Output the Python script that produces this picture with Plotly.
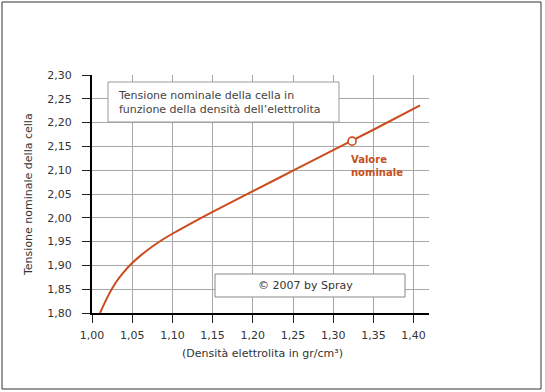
import plotly.graph_objects as go

# Data
density = [1.010, 1.020, 1.030, 1.040, 1.050, 1.060, 1.070, 1.080, 1.090,
           1.100, 1.125, 1.150, 1.200, 1.250, 1.300, 1.350, 1.408]
voltage = [1.800, 1.836, 1.865, 1.887, 1.905, 1.920, 1.9335, 1.9455, 1.9565,
           1.9665, 1.990, 2.0125, 2.056, 2.099, 2.142, 2.185, 2.236]
nominal_x = [1.3235]
nominal_y = [2.161]
x_ticks = [1.00, 1.05, 1.10, 1.15, 1.20, 1.25, 1.30, 1.35, 1.40]
y_ticks = [1.80, 1.85, 1.90, 1.95, 2.00, 2.05, 2.10, 2.15, 2.20, 2.25, 2.30]

W, H = 545, 392
L, R, T, B = 92, 429, 75, 313  # plot area pixel box
FONT = "DejaVu Sans"
LINE_COL = "#cc4b1c"

def px(xp):
    return (xp - L) / (R - L)

def py(yp):
    return (B - yp) / (B - T)

fig = go.Figure()
fig.add_trace(go.Scatter(x=density, y=voltage, mode="lines",
                         line=dict(color=LINE_COL, width=2, shape="spline",
                                   smoothing=1.0),
                         hoverinfo="skip", showlegend=False))
fig.add_trace(go.Scatter(x=nominal_x, y=nominal_y, mode="markers",
                         marker=dict(size=8, color="white",
                                     line=dict(color=LINE_COL, width=1.6)),
                         showlegend=False))

axis_common = dict(showline=True, linecolor="black", linewidth=2,
                   ticks="outside", ticklen=8, tickcolor="#222", tickwidth=1,
                   showgrid=True, gridcolor="#a8a8a8", gridwidth=1,
                   zeroline=False, tickformat=".2f",
                   tickfont=dict(family=FONT, size=11, color="#333"))

fig.update_xaxes(range=[1.0, 1.0 + (R - L) / 804.0], tickvals=x_ticks,
                 ticklabelstandoff=3, **axis_common)
fig.update_yaxes(range=[1.80, 2.30], tickvals=y_ticks, ticklabelstandoff=8,
                 **axis_common)

shapes = [
    # outer frame
    dict(type="rect", xref="paper", yref="paper",
         x0=px(2), x1=px(541), y0=py(389), y1=py(2),
         line=dict(color="#333", width=1), fillcolor="rgba(0,0,0,0)",
         layer="below"),
    # title box
    dict(type="rect", xref="paper", yref="paper",
         x0=px(108), x1=px(339), y0=py(122), y1=py(82),
         line=dict(color="#999", width=1), fillcolor="white", layer="above"),
    # copyright box
    dict(type="rect", xref="paper", yref="paper",
         x0=px(215), x1=px(405), y0=py(297), y1=py(274),
         line=dict(color="#888", width=1), fillcolor="white", layer="above"),
]

annotations = [
    dict(xref="paper", yref="paper", x=px(116), y=py(102),
         xanchor="left", yanchor="middle", align="left", showarrow=False,
         text="Tensione nominale della cella in<br>funzione della densità dell’elettrolita",
         font=dict(family=FONT, size=11, color="#444")),
    dict(xref="paper", yref="paper", x=px(305), y=py(285.5),
         xanchor="center", yanchor="middle", showarrow=False,
         text="© 2007 by Spray",
         font=dict(family=FONT, size=11, color="#333")),
    dict(xref="paper", yref="paper", x=px(349), y=py(166),
         xanchor="left", yanchor="middle", align="left", showarrow=False,
         text="<b>Valore<br>nominale</b>",
         font=dict(family=FONT, size=10, color="#c4501c")),
    dict(xref="paper", yref="paper", x=px(262), y=py(353),
         xanchor="center", yanchor="middle", showarrow=False,
         text="(Densità elettrolita in gr/cm³)",
         font=dict(family=FONT, size=11, color="#333")),
    dict(xref="paper", yref="paper", x=px(28), y=py(195),
         xanchor="center", yanchor="middle", showarrow=False, textangle=-90,
         text="Tensione nominale della cella",
         font=dict(family=FONT, size=11, color="#333")),
]

fig.update_layout(width=W, height=H, separators=",.",
                  margin=dict(l=L, r=W - R, t=T, b=H - B, pad=0),
                  paper_bgcolor="white", plot_bgcolor="white",
                  shapes=shapes, annotations=annotations, showlegend=False)

fig.write_html("out.html")
